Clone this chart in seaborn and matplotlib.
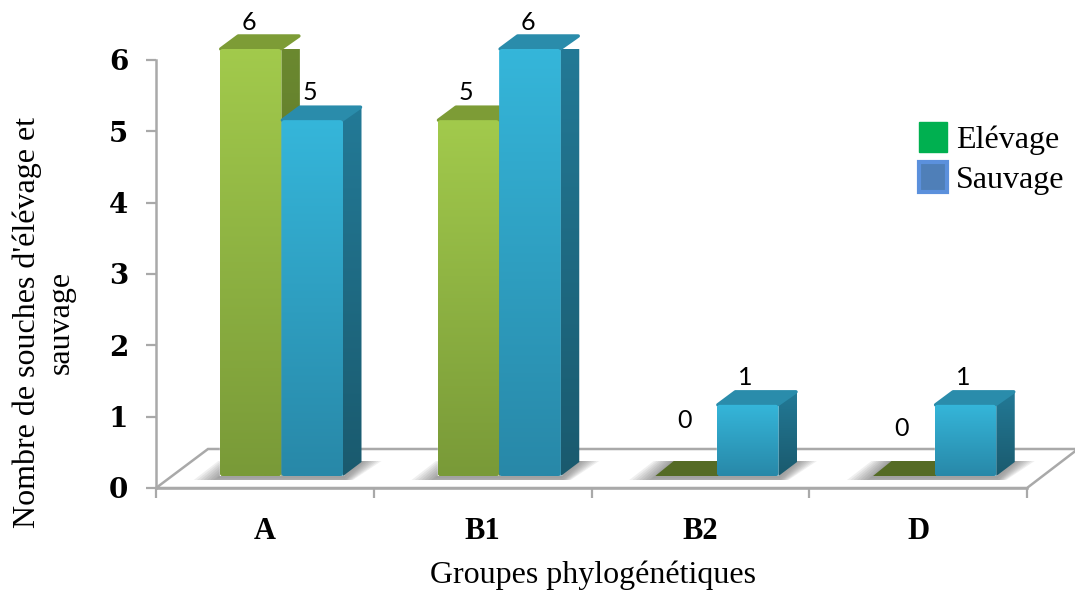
import numpy as np
import pandas as pd
import matplotlib
matplotlib.use('Agg')
import matplotlib.pyplot as plt
import seaborn as sns
from matplotlib.colors import to_rgb
from matplotlib.patches import FancyBboxPatch, Patch, Polygon
from matplotlib.transforms import Affine2D

groups = ['A', 'B1', 'B2', 'D']
elevage = [6, 5, 0, 0]
sauvage = [5, 6, 1, 1]
series_names = ['Elévage', 'Sauvage']
y_ticks = [0, 1, 2, 3, 4, 5, 6]
xlabel = 'Groupes phylogénétiques'
ylabel = "Nombre de souches d'élévage et\nsauvage"

W, H = 1075, 595
DX, DY = 18.5, 14
GRAY = '#a9a9a9'
SERIF = 'Liberation Serif'

df = pd.DataFrame({
    'group': groups * 2,
    'serie': [series_names[0]] * 4 + [series_names[1]] * 4,
    'value': elevage + sauvage,
})

sns.set_theme(style='white', rc={'text.color': 'black', 'xtick.color': 'black', 'ytick.color': 'black'})
fig = plt.figure(figsize=(W / 100, H / 100), dpi=100, facecolor='white')
# pixel coordinates, y going down
px = Affine2D().scale(1, -1).translate(0, H)


def box(left, top, right, bottom):
    return [left / W, 1 - bottom / H, (right - left) / W, (bottom - top) / H]


# axes with the ticks and the floor
ax = fig.add_axes(box(156, 60, 1027, 488))
ax.set_xlim(-0.5, 3.5)
ax.set_ylim(0, 6)
ax.set_yticks(y_ticks)
ax.set_yticklabels(y_ticks, family='DejaVu Serif', fontweight='bold', fontsize=20)
ax.set_xticks(np.arange(-0.5, 4, 1))
ax.set_xticklabels([])
ax.set_xticks(range(4), groups, minor=True, family=SERIF, fontweight='bold', fontsize=22)
ax.tick_params(axis='y', length=7, width=1.6, color=GRAY, pad=13, left=True)
ax.tick_params(axis='x', which='major', length=7, width=1.6, color=GRAY, bottom=True)
ax.tick_params(axis='x', which='minor', length=0, pad=21)
for side in ['top', 'right']:
    ax.spines[side].set_visible(False)
for side in ['left', 'bottom']:
    ax.spines[side].set_color(GRAY)
    ax.spines[side].set_linewidth(1.8)
ax.set_zorder(1)

floor = Polygon([(156, 488), (208, 449), (1078, 449), (1027, 488)], closed=True,
                facecolor='white', edgecolor=GRAY, linewidth=1.8, transform=px, clip_on=False)
ax.add_patch(floor)

fig.text(593 / W, 1 - 575 / H, xlabel, family=SERIF, fontsize=23, ha='center', va='center', color='black')
fig.text(44 / W, 1 - 322 / H, ylabel, family=SERIF, fontsize=23, rotation=90,
         ha='center', va='center', multialignment='center', color='black')

# the bars themselves, moved to the front of the floor
bar_ax = fig.add_axes(box(172.5, 49, 1043.5, 476))
bar_ax.patch.set_visible(False)
bar_ax.set_zorder(2)
sns.barplot(data=df, x='group', y='value', hue='serie', hue_order=series_names, order=groups,
            palette=['#8fb443', '#2f9fc2'], width=0.566, gap=0, legend=False, ax=bar_ax)
bar_ax.set_xlim(-0.5, 3.5)
bar_ax.set_ylim(0, 6)
bar_ax.axis('off')


def to_px(x, y):
    xd, yd = bar_ax.transData.transform((x, y))
    return xd, H - yd


def gradient(verts, top_col, bottom_col, z, clip=None):
    xs = [v[0] for v in verts]
    ys = [v[1] for v in verts]
    ramp = np.linspace(0, 1, 128)[:, None, None]
    rgb = np.array(to_rgb(top_col))[None, None, :] * (1 - ramp) + np.array(to_rgb(bottom_col))[None, None, :] * ramp
    im = bar_ax.imshow(rgb, extent=(min(xs), max(xs), max(ys), min(ys)), aspect='auto',
                       transform=px, zorder=z, interpolation='bilinear', clip_on=True)
    if clip is None:
        clip = Polygon(verts, closed=True, transform=px, facecolor='none', edgecolor='none')
    bar_ax.add_patch(clip)
    clip.set_zorder(z)
    im.set_clip_path(clip)
    return im


colors = [
    dict(front=('#a2ca4c', '#799a38'), top='#7d9c36', side=('#6c8a30', '#4d6322')),
    dict(front=('#35b6da', '#2888a8'), top='#2a8cab', side=('#237a97', '#1a5a6e')),
]
label_lift = [[27, 28, 56, 47], [28, 27, 27, 27]]

# ground shadows
for c in range(4):
    left = to_px(c - 0.283, 0)[0]
    right = to_px(c + 0.283, 0)[0]
    base = to_px(c, 0)[1]
    for grow in range(1, 9):
        g = grow * 2.5
        ax.add_patch(Polygon([(left - g * 1.3, base + min(g, 4)), (left + DX - g, base - DY - 1),
                              (right + DX + g, base - DY - 1), (right + g * 0.5, base + min(g, 4))],
                             closed=True, transform=px, clip_on=False, facecolor='#505050',
                             edgecolor='none', alpha=0.085, zorder=2))

z = 3
for s, container in enumerate(bar_ax.containers):
    for c, bar in enumerate(container):
        x0 = bar.get_x()
        x1 = x0 + bar.get_width()
        h = bar.get_height()
        left, bottom = to_px(x0, 0)
        right, top = to_px(x1, h)
        pal = colors[s]
        layer = z + 10 * c + s * 4
        if h == 0:
            bar_ax.add_patch(Polygon([(left, bottom), (left + DX, bottom - DY - 1), (right + 2, bottom - DY - 1),
                                      (right + 2, bottom)], closed=True, transform=px, clip_on=False,
                                     facecolor='#556b25', edgecolor='none', zorder=layer))
        else:
            side = [(right, top), (right + DX, top - DY), (right + DX, bottom - DY), (right, bottom)]
            gradient(side, pal['side'][0], pal['side'][1], layer)
            bar_ax.add_patch(Polygon([(left + 1, top), (left + DX, top - DY + 1), (right + DX - 1, top - DY + 1), (right - 1, top)],
                                     closed=True, transform=px, clip_on=False, facecolor=pal['top'],
                                     edgecolor=pal['top'], linewidth=2.5, joinstyle='round', zorder=layer + 1))
            rim = FancyBboxPatch((left, top), right - left, bottom - top,
                                 boxstyle='round,pad=0,rounding_size=3', transform=px, clip_on=False,
                                 facecolor='none', edgecolor='none')
            gradient([(left, top), (right, top), (right, bottom), (left, bottom)],
                     pal['front'][0], pal['front'][1], layer + 2, clip=rim)
        bar_ax.text((left + right) / 2 - 2, top - label_lift[s][c], str(int(h)),
                    transform=px, family='Lato', fontsize=18, ha='center', va='center',
                    color='black', zorder=100, clip_on=False)

bar_ax.set_xlim(-0.5, 3.5)
bar_ax.set_ylim(0, 6)

handles = [Patch(facecolor='#00b050', edgecolor='#00b050', linewidth=1),
           Patch(facecolor='#4f7fb8', edgecolor='#5b90dc', linewidth=3)]
leg = fig.legend(handles, series_names, loc='upper left', bbox_to_anchor=(913 / W, 1 - 116 / H), frameon=False,
                 prop={'family': SERIF, 'size': 23}, handlelength=0.85, handleheight=1.05,
                 handletextpad=0.3, labelspacing=0.22, borderpad=0.2, borderaxespad=0)
leg.set_zorder(200)

fig.savefig('out.png', dpi=100)
